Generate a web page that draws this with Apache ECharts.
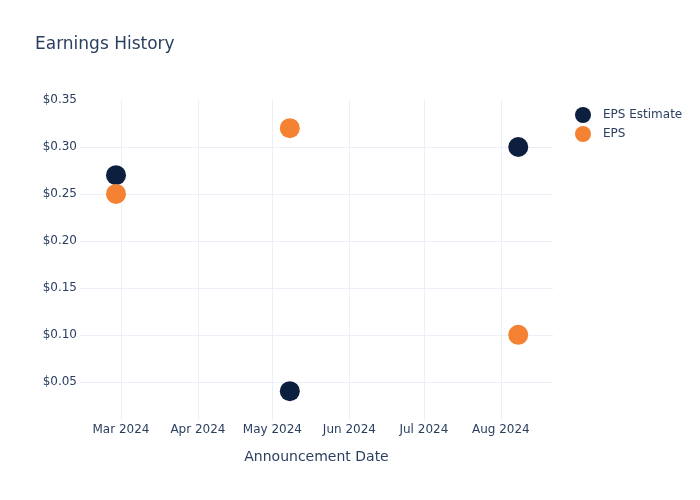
<!DOCTYPE html>
<html>
<head>
<meta charset="utf-8">
<script src="https://cdn.jsdelivr.net/npm/echarts@6/dist/echarts.min.js"></script>
<style>html,body{margin:0;padding:0;background:#fff}#c{width:700px;height:500px}</style>
</head>
<body>
<div id="c"></div>
<script>
var dates = ['2024-02-28', '2024-05-08', '2024-08-08'];
var epsEstimate = [0.27, 0.04, 0.30];
var eps = [0.25, 0.32, 0.10];
var yTicks = [0.05, 0.10, 0.15, 0.20, 0.25, 0.30, 0.35];
var xTicks = ['2024-03-01', '2024-04-01', '2024-05-01', '2024-06-01', '2024-07-01', '2024-08-01'];
var monthNames = ['Jan','Feb','Mar','Apr','May','Jun','Jul','Aug','Sep','Oct','Nov','Dec'];

function ts(s) { var p = s.split('-'); return Date.UTC(+p[0], +p[1] - 1, +p[2]); }
var font = 'DejaVu Sans';
var textColor = '#2a3f5f';

var chart = echarts.init(document.getElementById('c'), null, {renderer: 'canvas'});
chart.setOption({
  animation: false,
  backgroundColor: '#fff',
  title: {
    text: 'Earnings History', left: 30, top: 31,
    textStyle: {fontFamily: font, fontSize: 17, fontWeight: 'normal', color: textColor}
  },
  legend: {
    orient: 'vertical', left: 570, top: 102, itemGap: 3, itemWidth: 16, itemHeight: 16,
    icon: 'circle',
    textStyle: {fontFamily: font, fontSize: 12, color: textColor, padding: [0,0,0,7]},
    data: ['EPS Estimate', 'EPS']
  },
  grid: {left: 80, right: 147, top: 100, height: 320, containLabel: false},
  xAxis: {
    type: 'value',
    min: ts('2024-02-13') + 12 * 3600 * 1000,
    max: ts('2024-08-22'),
    name: 'Announcement Date', nameLocation: 'middle', nameGap: 30,
    nameTextStyle: {fontFamily: font, fontSize: 14, color: textColor},
    axisLine: {show: false},
    axisTick: {show: false, customValues: xTicks.map(ts)},
    axisLabel: {
      customValues: xTicks.map(ts), margin: 4,
      fontFamily: font, fontSize: 12, color: textColor,
      formatter: function (v) { var d = new Date(v); return monthNames[d.getUTCMonth()] + ' ' + d.getUTCFullYear(); }
    },
    splitLine: {show: true, lineStyle: {color: '#ebf0f8', width: 1}}
  },
  yAxis: {
    type: 'value',
    min: 0.0093, max: 0.35,
    axisLine: {show: false},
    axisTick: {show: false, customValues: yTicks},
    axisLabel: {
      customValues: yTicks, margin: 3,
      fontFamily: font, fontSize: 12, color: textColor,
      formatter: function (v) { return '$' + v.toFixed(2); }
    },
    splitLine: {show: true, showMaxLine: false, lineStyle: {color: '#ebf0f8', width: 1}}
  },
  series: [
    {
      name: 'EPS Estimate', type: 'scatter', symbolSize: 20,
      itemStyle: {color: '#0c1f3f', opacity: 1},
      data: dates.map(function (d, i) { return [ts(d), epsEstimate[i]]; })
    },
    {
      name: 'EPS', type: 'scatter', symbolSize: 20,
      itemStyle: {color: '#f58233', opacity: 1},
      data: dates.map(function (d, i) { return [ts(d), eps[i]]; })
    }
  ]
});
</script>
</body>
</html>
